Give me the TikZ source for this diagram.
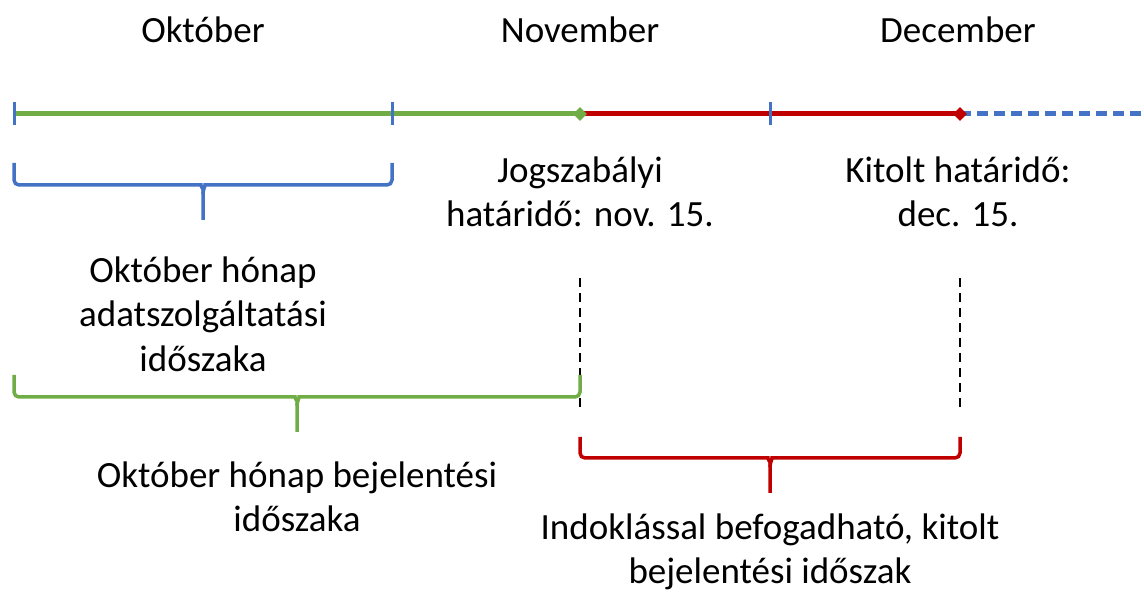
\documentclass[tikz,border=0pt]{standalone}
\usepackage{fontspec}
\setmainfont{Carlito}
\usetikzlibrary{shapes.geometric}
\definecolor{tlblue}{HTML}{4472C4}
\definecolor{tlgreen}{HTML}{70AD47}
\definecolor{tlred}{HTML}{C00000}
\def\timebrace[#1](#2:#3:#4:#5:#6){%
  \pgfmathsetmacro\bmid{(#2+#3)/2}%
  \pgfmathsetmacro\bleft{\bmid-7}%
  \pgfmathsetmacro\bright{\bmid+7}%
  \pgfmathsetmacro\bknee{#5+9}%
  \draw[#1, rounded corners=5pt] (#2,#4) -- (#2,#5) -- (\bleft,#5) to[out=0,in=90] (\bmid,\bknee) -- (\bmid,#6);
  \draw[#1, rounded corners=5pt] (\bmid,\bknee) to[out=90,in=180] (\bright,#5) -- (#3,#5) -- (#3,#4);}
\tikzset{
  label text/.style={align=center, font=\fontsize{37}{44.5}\selectfont, inner sep=0pt},
  tick/.style={draw=tlblue, line width=3pt},
  marker/.style={diamond, inner sep=0pt, minimum size=14pt},
  guide/.style={black, line width=2.5pt, dash pattern=on 9pt off 6pt}
}
\begin{document}
\begin{tikzpicture}[x=1pt, y=-1pt]
  \useasboundingbox (0,0) rectangle (1144,593);

  %%%%% months %%%%%
  \node[label text] (oktober) at (203,30) {Október};
  \node[label text] (november) at (580,30) {November};
  \node[label text] (december) at (958,30) {December};

  %%%%% timeline %%%%%
  \coordinate (start) at (14,114);
  \coordinate (tnov) at (392,114);
  \coordinate (tdec) at (770,114);
  \coordinate (lineend) at (1144,114);
  \node[marker] (jogdate) at (580,114) {};
  \node[marker] (kitdate) at (960,114) {};

  \draw[tlgreen, line width=5pt] (start) -- (jogdate.center);
  \draw[tlred, line width=5pt] (jogdate.center) -- (kitdate.center);
  \draw[tlblue, line width=5pt, dash pattern=on 11pt off 6pt] (kitdate.center) -- (lineend);
  \node[marker, fill=tlgreen] at (jogdate) {};
  \node[marker, fill=tlred] at (kitdate) {};
  \foreach \t in {start, tnov, tdec}
    \draw[tick] ([yshift=-11pt]\t) -- ([yshift=12pt]\t);

  %%%%% deadlines %%%%%
  \node[label text] (jogszab) at (580,192) {Jogszabályi\\határidő: nov. 15.};
  \node[label text] (kitolt) at (958,192) {Kitolt határidő:\\dec. 15.};

  \coordinate (jogtop) at (580,278);
  \coordinate (jogbot) at (580,408);
  \coordinate (kittop) at (960,278);
  \coordinate (kitbot) at (960,408);
  \draw[guide] (jogtop) -- (jogbot);
  \draw[guide] (kittop) -- (kitbot);

  %%%%% periods %%%%%
  \timebrace[tlblue, line width=3.5pt](14:392:163:185:220)
  \node[label text] (adatszolg) at (203,314) {Október hónap\\adatszolgáltatási\\időszaka};

  \timebrace[tlgreen, line width=3.5pt](14:580:375:397:432)
  \node[label text] (bejel) at (297,497) {Október hónap bejelentési\\időszaka};

  \timebrace[tlred, line width=3.5pt](580:960:437:458:493)
  \node[label text] (indokl) at (770,552) {Indoklással befogadható, kitolt\\bejelentési időszak};
\end{tikzpicture}
\end{document}
